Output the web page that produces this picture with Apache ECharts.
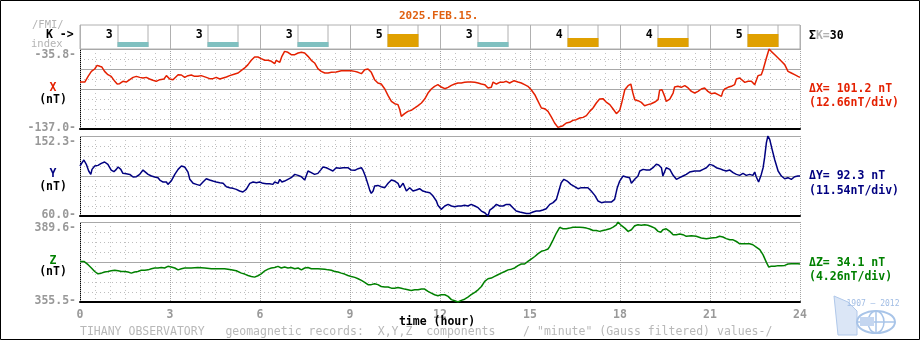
<!DOCTYPE html>
<html><head><meta charset="utf-8">
<script src="https://cdn.jsdelivr.net/npm/echarts@6/dist/echarts.min.js"></script>
<style>html,body{margin:0;padding:0;background:#fff}#c{width:920px;height:340px}</style>
</head><body><div id="c"></div>
<script>
const dateTitle = '2025.FEB.15.';
const hourTicks = [0,3,6,9,12,15,18,21,24];
const kIndex = [3,3,3,5,3,4,4,5];
const kSum = 30;

const xRange = [-137.0, -35.8];
const yRange = [60.0, 152.3];
const zRange = [355.5, 389.6];
const xSolid = [-35.8, -61.1, -86.4];
const ySolid = [152.3, 106.15];
const zSolid = [389.6, 372.55];
const deltaText = ['\u0394X= 101.2 nT', '\u0394Y= 92.3 nT', '\u0394Z= 34.1 nT'];
const perDivText = ['(12.66nT/div)', '(11.54nT/div)', '(4.26nT/div)'];

const xTimes = [0,0.16,0.27,0.38,0.49,0.57,0.66,0.73,0.82,0.93,1.04,1.16,1.24,1.32,1.43,1.54,1.66,1.77,1.88,1.99,2.1,2.21,2.32,2.43,2.54,2.66,2.8,2.88,2.99,3.1,3.27,3.38,3.49,3.6,3.71,3.82,3.93,4.04,4.21,4.32,4.43,4.54,4.66,4.77,4.88,4.99,5.16,5.27,5.38,5.49,5.6,5.71,5.82,5.93,6.04,6.16,6.27,6.38,6.49,6.54,6.66,6.73,6.82,6.93,7.04,7.16,7.27,7.38,7.49,7.6,7.71,7.82,7.93,8.04,8.16,8.27,8.38,8.43,8.54,8.71,8.93,9.04,9.16,9.27,9.38,9.49,9.6,9.71,9.82,9.93,10.04,10.16,10.27,10.38,10.49,10.6,10.66,10.71,10.82,10.93,11.04,11.16,11.27,11.38,11.49,11.6,11.71,11.82,11.93,
12.04,12.16,12.27,12.38,12.49,12.6,12.71,12.82,12.93,13.04,13.16,13.27,13.38,13.49,13.6,13.71,13.77,13.88,13.99,14.1,14.21,14.32,14.47,14.6,14.71,14.82,14.93,15.04,15.16,15.27,15.38,15.49,15.6,15.71,15.82,15.93,15.99,16.1,16.21,16.32,16.43,16.54,16.66,16.77,16.88,16.99,17.1,17.21,17.32,17.43,17.54,17.66,17.77,17.88,17.93,17.99,18.07,18.16,18.27,18.36,18.43,18.49,18.6,18.71,18.82,18.93,19.04,19.16,19.27,19.32,19.4,19.49,19.54,19.66,19.77,19.82,19.93,20.04,20.16,20.27,20.38,20.49,20.6,20.71,20.82,20.93,21.04,21.16,21.27,21.38,21.43,21.49,21.6,21.71,21.82,21.88,21.99,22.04,22.16,22.27,22.38,22.49,22.6,22.71,22.77,22.88,22.97,23.04,23.16,23.27,23.38,23.49,23.6,23.71,23.82,23.93,24];
const xValues = [-77.6,-77.6,-70.4,-64.1,-61.1,-56.5,-57.7,-58.6,-64.1,-68.3,-70.4,-76.7,-80.1,-79.7,-76.7,-77.6,-74.6,-71.7,-70.4,-71.7,-72.5,-71.7,-73.8,-75.4,-76.7,-74.6,-73.8,-69.5,-73.8,-74.6,-68.3,-68.7,-71.7,-69.5,-68.7,-70.4,-70.4,-69.5,-71.7,-73.3,-73.3,-71.7,-73.8,-72.5,-71.2,-69.5,-67.4,-66.2,-62.8,-59.8,-55.6,-50.1,-45.9,-45.9,-48.0,-50.1,-50.1,-51.4,-54.4,-50.1,-52.7,-45.1,-38.8,-40.0,-43.0,-43.0,-40.9,-40.0,-40.9,-45.1,-50.1,-53.5,-60.7,-64.1,-66.2,-66.2,-65.3,-67.4,-64.9,-63.2,-63.2,-63.2,-64.1,-65.3,-67.0,-62.0,-61.1,-65.3,-74.6,-78.8,-80.1,-86.4,-94.8,-102.0,-105.0,-106.2,-112.6,-121.0,-117.6,-114.7,-113.4,-110.4,-107.5,-104.1,-99.1,-91.5,-86.4,-83.0,-80.9,
-83.9,-86.0,-84.3,-81.8,-80.1,-78.8,-78.8,-78.0,-77.6,-77.6,-78.0,-78.8,-80.1,-80.9,-85.1,-84.3,-77.6,-80.1,-78.0,-78.0,-76.7,-78.8,-75.9,-77.6,-78.8,-80.9,-83.0,-87.3,-93.6,-102.0,-110.4,-111.3,-114.7,-121.8,-129.4,-134.9,-137.0,-132.8,-129.4,-128.6,-126.1,-125.2,-123.1,-122.3,-120.1,-114.7,-110.4,-104.1,-99.1,-98.6,-102.9,-106.2,-111.7,-117.6,-118.9,-113.4,-102.0,-87.3,-82.2,-80.1,-91.5,-99.9,-101.2,-103.3,-107.5,-106.2,-105.0,-102.9,-99.9,-88.1,-87.3,-95.7,-102.0,-99.1,-91.5,-83.9,-83.0,-84.3,-82.2,-85.1,-89.4,-91.5,-89.4,-86.4,-85.1,-89.4,-92.3,-91.5,-93.6,-95.7,-89.4,-86.4,-84.3,-83.0,-80.9,-73.8,-72.5,-74.6,-78.0,-76.7,-76.7,-80.9,-69.5,-68.3,-62.0,-47.2,-35.8,-38.8,-43.0,-47.2,-51.4,-55.6,-64.1,-66.2,-68.3,-70.4,-71.7];

const yTimes = [0,0.07,0.13,0.21,0.29,0.36,0.4,0.49,0.6,0.71,0.82,0.93,1.04,1.13,1.21,1.27,1.36,1.43,1.54,1.66,1.77,1.88,1.99,2.1,2.16,2.27,2.38,2.49,2.6,2.66,2.77,2.88,2.93,3.04,3.16,3.27,3.38,3.49,3.6,3.66,3.77,3.88,3.99,4.1,4.21,4.32,4.43,4.54,4.66,4.77,4.88,4.99,5.1,5.21,5.32,5.43,5.54,5.66,5.77,5.88,5.99,6.1,6.21,6.32,6.43,6.49,6.6,6.66,6.73,6.82,6.93,7.04,7.16,7.27,7.38,7.49,7.6,7.71,7.82,7.93,8.04,8.1,8.21,8.32,8.43,8.54,8.66,8.77,8.93,9.04,9.16,9.27,9.38,9.43,9.51,9.6,9.66,9.71,9.77,9.82,9.93,10.04,10.16,10.27,10.38,10.49,10.6,10.66,10.77,10.88,10.99,11.1,11.21,11.32,11.43,11.54,11.66,11.77,11.88,11.93,
12.04,12.16,12.27,12.38,12.49,12.6,12.71,12.82,12.93,13.04,13.16,13.27,13.38,13.49,13.6,13.66,13.77,13.88,13.99,14.1,14.21,14.32,14.43,14.54,14.66,14.77,14.88,14.99,15.1,15.21,15.32,15.43,15.54,15.66,15.77,15.88,15.96,16.04,16.13,16.24,16.36,16.49,16.6,16.71,16.82,16.93,17.04,17.16,17.27,17.38,17.49,17.6,17.71,17.82,17.91,17.99,18.1,18.21,18.32,18.38,18.49,18.6,18.66,18.77,18.88,18.99,19.1,19.21,19.29,19.38,19.43,19.54,19.66,19.77,19.88,19.99,20.1,20.21,20.32,20.49,20.66,20.77,20.88,20.99,21.1,21.21,21.32,21.43,21.54,21.66,21.77,21.88,21.99,22.1,22.21,22.32,22.43,22.49,22.54,22.62,22.71,22.77,22.82,22.88,22.93,22.99,23.07,23.16,23.27,23.38,23.49,23.6,23.71,23.82,23.93,24];
const yValues = [117.7,121.5,124.6,119.6,111.9,108.0,113.8,117.7,118.4,120.7,122.3,119.6,113.0,111.1,113.8,116.5,113.8,109.2,108.8,108.0,105.0,105.3,108.0,113.0,113.8,108.0,106.1,105.0,104.2,101.5,99.2,99.2,96.5,100.3,108.0,113.8,117.7,116.5,110.7,102.3,97.7,96.5,95.3,99.2,103.0,101.5,100.3,99.2,98.4,97.7,93.8,92.7,91.9,90.7,88.8,87.7,90.7,97.7,99.2,98.4,99.2,97.7,97.3,97.3,96.5,99.2,97.7,102.3,99.2,100.3,102.3,104.2,108.0,106.9,105.3,101.5,111.9,110.0,108.0,109.2,113.8,116.5,115.7,113.8,111.9,115.7,115.0,115.7,115.7,113.0,112.7,114.6,115.7,113.0,106.1,96.5,89.6,86.1,88.8,94.6,95.3,93.8,92.7,97.7,101.5,100.3,97.7,92.7,97.7,88.8,92.7,88.8,90.0,91.5,88.8,87.7,86.9,83.0,77.3,72.3,
67.7,71.5,73.4,71.5,70.7,71.5,71.5,72.3,71.5,73.4,71.5,69.6,65.7,63.8,60.0,66.9,69.6,73.4,71.5,71.5,73.4,73.4,69.6,65.7,64.6,63.8,63.0,63.0,64.6,65.7,65.7,66.9,68.4,73.4,75.4,79.2,88.8,98.4,102.3,100.3,96.5,93.8,91.5,92.7,92.7,92.7,88.8,83.8,77.3,75.4,76.1,76.1,76.1,79.2,92.7,100.3,106.1,105.0,104.2,97.7,102.3,106.1,111.9,113.8,113.0,113.0,115.7,119.6,118.8,115.7,106.1,115.7,113.8,106.9,102.3,104.2,106.1,108.0,110.7,111.9,111.9,113.8,115.7,119.6,118.4,115.7,114.6,113.0,111.9,113.0,110.0,108.0,106.9,109.2,106.9,108.0,106.9,110.7,105.3,99.2,108.0,115.7,127.3,144.6,152.3,148.4,136.9,124.6,111.9,106.1,103.0,104.2,102.3,105.3,106.1,106.1];

const zTimes = [0,0.13,0.27,0.38,0.49,0.6,0.71,0.82,0.93,1.04,1.16,1.27,1.38,1.49,1.6,1.71,1.82,1.93,2.04,2.16,2.27,2.38,2.49,2.6,2.71,2.82,2.93,3.04,3.16,3.27,3.38,3.49,3.71,3.93,4.16,4.38,4.6,4.82,5.04,5.21,5.38,5.49,5.6,5.71,5.82,5.93,6.04,6.16,6.27,6.38,6.49,6.6,6.71,6.82,6.93,7.04,7.16,7.27,7.38,7.49,7.6,7.71,7.93,8.16,8.27,8.38,8.49,8.6,8.71,8.82,8.93,9.04,9.16,9.27,9.38,9.49,9.6,9.71,9.82,9.93,10.04,10.16,10.27,10.38,10.49,10.6,10.71,10.82,10.93,11.04,11.16,11.27,11.38,11.49,11.6,11.71,11.82,11.88,11.93,
12.04,12.16,12.27,12.38,12.49,12.6,12.71,12.82,12.93,13.04,13.16,13.27,13.38,13.49,13.6,13.71,13.82,13.93,14.04,14.16,14.27,14.38,14.49,14.6,14.71,14.82,14.93,15.04,15.16,15.27,15.38,15.49,15.6,15.66,15.77,15.88,15.99,16.1,16.21,16.32,16.43,16.54,16.66,16.77,16.88,16.99,17.1,17.21,17.32,17.43,17.54,17.66,17.77,17.88,17.93,18.02,18.16,18.27,18.38,18.49,18.6,18.71,18.82,18.93,19.04,19.16,19.27,19.36,19.43,19.54,19.66,19.77,19.88,19.99,20.1,20.21,20.38,20.54,20.71,20.88,21.04,21.21,21.32,21.43,21.54,21.66,21.77,21.88,21.99,22.1,22.21,22.32,22.43,22.54,22.66,22.77,22.88,22.96,23.04,23.16,23.27,23.38,23.49,23.6,23.71,23.82,23.93,24];
const zValues = [372.8,372.8,371.4,370.0,368.5,367.5,367.8,368.3,368.5,368.8,369.0,368.8,368.5,368.5,368.3,367.8,368.3,368.5,369.0,369.0,369.2,369.7,370.0,370.0,370.2,370.0,370.7,370.4,370.0,369.2,369.7,370.0,370.0,370.2,370.0,369.7,369.7,369.7,369.2,368.8,367.8,367.4,366.8,366.4,366.1,366.7,367.5,368.8,369.5,370.0,370.2,370.7,370.0,370.4,370.0,370.2,369.7,370.0,369.2,370.0,370.2,369.7,369.7,369.5,369.2,369.0,368.5,368.3,367.8,367.4,366.8,366.4,366.0,365.4,364.7,363.9,362.9,362.9,363.3,362.9,362.1,361.9,361.9,361.4,361.4,361.7,361.4,361.0,360.7,360.4,360.7,360.7,361.0,361.0,360.0,359.3,358.6,357.9,358.2,
358.6,358.6,357.9,356.5,356.0,355.5,356.2,356.7,357.6,358.6,359.6,360.7,362.1,364.3,365.4,365.7,366.4,367.1,367.8,368.5,369.2,369.5,370.0,371.0,371.7,371.7,372.8,373.8,374.9,376.1,377.1,377.5,378.1,379.2,382.0,384.9,387.3,386.7,386.7,387.0,387.4,387.4,387.4,387.3,387.0,386.6,386.0,386.0,385.6,386.0,386.3,386.7,387.4,388.4,389.6,388.4,387.0,385.6,386.3,388.0,388.4,388.2,388.4,388.2,387.7,387.0,385.6,385.2,386.3,386.7,385.6,384.2,384.2,384.5,384.2,383.5,383.7,383.5,382.8,382.5,382.8,383.0,383.5,383.2,382.5,382.0,382.0,381.3,380.3,380.3,380.3,380.3,379.9,378.9,377.8,375.6,372.4,370.4,370.7,370.7,371.0,371.0,371.1,371.7,371.8,371.8,371.8,371.7];

const FONT = "'DejaVu Sans Mono', 'Liberation Mono', monospace";
const chart = echarts.init(document.getElementById('c'), null, {renderer: 'canvas'});
const colors = ['#e42000', '#000080', '#008000'];
const ranges = [xRange, yRange, zRange];
const solids = [xSolid, ySolid, zSolid];
const series = [[xTimes, xValues], [yTimes, yValues], [zTimes, zValues]];
const panelTops = [49, 136, 222];
const PH = 80;

const grids = [{left: 80, top: 25, width: 720, height: 24, show: true, borderColor: '#b0b0b0', borderWidth: 1}];
panelTops.forEach(t => grids.push({left: 80, top: t, width: 720, height: PH}));

const xAxes = [{gridIndex: 0, type: 'value', min: 0, max: 24, interval: 3, axisLine: {show: false}, axisTick: {show: false}, axisLabel: {show: false}, splitLine: {show: true, lineStyle: {color: '#b0b0b0', width: 1}}}];
const yAxes = [{gridIndex: 0, type: 'value', min: 1.25, max: 7.25, show: false, splitLine: {show: false}}];

const labelStyle = {color: '#999', fontFamily: FONT, fontWeight: 'bold', fontSize: 11.5};
for (let p = 0; p < 3; p++) {
  const g = p + 1;
  const isLast = p === 2;
  xAxes.push({gridIndex: g, type: 'value', min: 0, max: 24, interval: 3, position: 'bottom', z: 3,
    axisLine: {show: true, onZero: false, lineStyle: {color: '#000', width: 2}},
    axisTick: {show: false},
    axisLabel: Object.assign({show: isLast, margin: 7,
      formatter: v => hourTicks.indexOf(v) >= 0 ? String(v) : ''}, labelStyle),
    splitLine: {show: true, lineStyle: {color: '#a4a4a4', type: [1, 1], width: 1}}});
  xAxes.push({gridIndex: g, type: 'value', min: 0, max: 24, interval: 0.5, position: 'top', z: 1,
    axisLine: {show: false}, axisTick: {show: false}, axisLabel: {show: false},
    splitLine: {show: true, lineStyle: {color: '#c2c2c2', type: [1, 3], width: 1}}});
  const [mn, mx] = ranges[p];
  yAxes.push({gridIndex: g, type: 'value', min: mn, max: mx, interval: (mx - mn) / 8,
    axisLine: {show: true, onZero: false, lineStyle: {color: '#000', type: [1, 1], width: 1}},
    axisTick: {show: false},
    axisLabel: Object.assign({show: true, margin: 4, showMinLabel: true, showMaxLabel: true,
      formatter: v => Math.abs(v - mx) < 1e-3 ? '{t|' + mx.toFixed(1) + '-}' : (Math.abs(v - mn) < 1e-3 ? '{b|' + mn.toFixed(1) + '-}' : ''),
      rich: {t: Object.assign({padding: [12, 0, 0, 0]}, labelStyle),
             b: Object.assign({padding: [0, 0, 2.5, 0]}, labelStyle)}}, labelStyle),
    splitLine: {show: true, lineStyle: {color: '#bdbdbd', type: [1, 3], width: 1}}});
}

const seriesList = [{
  type: 'custom', xAxisIndex: 0, yAxisIndex: 0,
  data: kIndex.map((k, i) => [i, k]),
  renderItem: (params, api) => {
    const i = api.value(0), k = api.value(1);
    const h0 = i * 3;
    const tl = api.coord([h0 + 1.25, 7.25]);
    const br = api.coord([h0 + 2.25, 1.75]);
    const top = api.coord([h0 + 1.25, k]);
    const lab = api.coord([h0 + 0.97, 4.75]);
    const fill = k >= 4 ? '#e0a000' : '#80c0c0';
    return {type: 'group', children: [
      {type: 'line', shape: {x1: tl[0] + 0.5, y1: tl[1], x2: tl[0] + 0.5, y2: br[1]}, style: {stroke: '#b0b0b0', lineWidth: 1}},
      {type: 'line', shape: {x1: br[0] + 0.5, y1: tl[1], x2: br[0] + 0.5, y2: br[1]}, style: {stroke: '#b0b0b0', lineWidth: 1}},
      {type: 'rect', shape: {x: tl[0], y: top[1], width: br[0] - tl[0] + 1, height: br[1] - top[1]}, style: {fill: fill}},
      {type: 'text', style: {text: String(k), x: lab[0], y: lab[1], align: 'center', verticalAlign: 'middle', textAlign: 'center', textVerticalAlign: 'middle', font: 'bold 11.5px ' + FONT, fill: '#000'}}
    ]};
  }
}];

for (let p = 0; p < 3; p++) {
  const [ts, vs] = series[p];
  const n = Math.min(ts.length, vs.length);
  const data = [];
  for (let j = 0; j < n; j++) data.push([ts[j], vs[j]]);
  seriesList.push({type: 'line', xAxisIndex: 1 + p * 2, yAxisIndex: p + 1, data: data, showSymbol: false, symbol: 'none',
    lineStyle: {color: colors[p], width: 1.5}, z: 5, silent: true,
    markLine: {silent: true, symbol: 'none', label: {show: false}, z: 2,
      lineStyle: {color: '#a8a8a8', type: 'solid', width: 1},
      data: solids[p].map(v => ({yAxis: v}))}});
}

function txt(text, x, y, color, opts) {
  opts = opts || {};
  return {type: 'text', z: opts.z || 10, style: Object.assign({text: text, x: x, y: y, fill: color,
    font: (opts.weight || 'bold') + ' ' + (opts.size || 11.5) + 'px ' + FONT,
    align: opts.align || 'left', textAlign: opts.align || 'left', verticalAlign: 'middle', textVerticalAlign: 'middle'}, opts.extra || {})};
}

const chLetters = ['X', 'Y', 'Z'];
const chY = [[88, 100], [174, 187], [261, 272]];
const deltaY = [[89, 103], [176, 191], [263, 277]];
const graphics = [
  {type: 'rect', z: 20, shape: {x: 0.5, y: 0.5, width: 919, height: 339}, style: {fill: 'none', stroke: '#000', lineWidth: 1}},
  txt(dateTitle, 399, 16, '#e06010', {size: 11}),
  txt('/FMI/', 32, 25, '#b4b4b4', {size: 10.5, weight: 'normal'}),
  txt('K ->', 46, 35, '#000'),
  txt('index', 31, 44, '#b4b4b4', {size: 10.5, weight: 'normal'}),
  {type: 'text', z: 10, style: {text: '{a|\u03a3}{g|K=}{a|' + kSum + '}', x: 809, y: 36, verticalAlign: 'middle', textVerticalAlign: 'middle',
    rich: {a: {fill: '#000', font: 'bold 11.5px ' + FONT}, g: {fill: '#b0b0b0', font: 'bold 11.5px ' + FONT}}}},
  txt('time (hour)', 437, 322, '#000', {align: 'center'}),
  txt('TIHANY OBSERVATORY   geomagnetic records:  X,Y,Z  components    / "minute" (Gauss filtered) values-/', 80, 332, '#b8b8b8', {weight: 'normal'}),
  {type: 'polygon', z: 10, shape: {points: [[834, 296], [848, 302], [857, 311], [857, 335], [838, 335]]}, style: {fill: '#dbe6f6', stroke: '#b0c8ea', lineWidth: 1}},
  txt('1907 \u2014 2012', 873, 304, '#a0bce4', {size: 8, weight: 'normal', align: 'center', z: 14}),
  {type: 'ellipse', z: 11, shape: {cx: 876, cy: 322, rx: 19, ry: 11}, style: {fill: 'none', stroke: '#a8c4e8', lineWidth: 2}},
  {type: 'ellipse', z: 11, shape: {cx: 876, cy: 322, rx: 8, ry: 11}, style: {fill: 'none', stroke: '#a8c4e8', lineWidth: 1.5}},
  {type: 'line', z: 11, shape: {x1: 857, y1: 322, x2: 895, y2: 322}, style: {stroke: '#a8c4e8', lineWidth: 1.5}},
  {type: 'line', z: 11, shape: {x1: 876, y1: 311, x2: 876, y2: 333}, style: {stroke: '#a8c4e8', lineWidth: 1.5}},
  {type: 'rect', z: 11, shape: {x: 860, y: 317, width: 14, height: 9}, style: {fill: '#c4d6f0'}}
];
for (let p = 0; p < 3; p++) {
  graphics.push(txt(chLetters[p], 53, chY[p][0], colors[p], {align: 'center'}));
  graphics.push(txt('(nT)', 53, chY[p][1], '#000', {align: 'center'}));
  graphics.push(txt(deltaText[p], 809, deltaY[p][0], colors[p]));
  graphics.push(txt(perDivText[p], 809, deltaY[p][1], colors[p]));
}

chart.setOption({
  animation: false,
  backgroundColor: '#fff',
  grid: grids,
  xAxis: xAxes,
  yAxis: yAxes,
  series: seriesList,
  graphic: {elements: graphics}
});
</script></body></html>
